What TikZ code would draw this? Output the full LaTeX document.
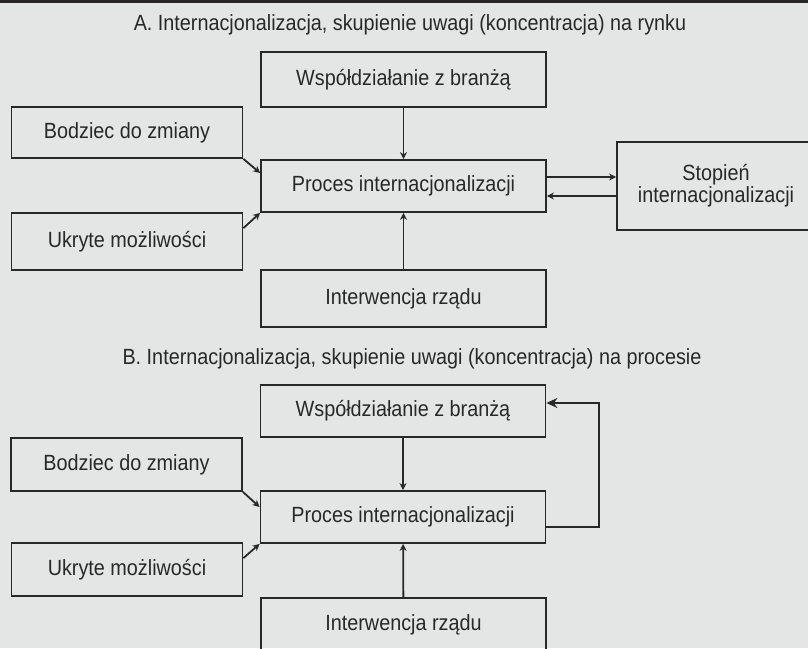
\documentclass[tikz,border=0pt]{standalone}
\usepackage{fontspec}
\setmainfont{Liberation Sans}[FakeStretch=0.9]
\usepackage{xcolor}
\usetikzlibrary{arrows.meta, positioning}
\definecolor{pagebg}{RGB}{228,230,230}
\definecolor{ink}{RGB}{40,40,40}

\begin{document}
\begin{tikzpicture}[
    x=1pt, y=-1pt,
    font=\fontsize{22}{22}\selectfont,
    blok/.style={draw=ink, line width=1.8pt, text=ink, inner sep=0pt, minimum width=285pt},
    boczny/.style={blok, minimum width=231pt},
    strz/.style={draw=ink, line width=1.8pt, -{Stealth[length=7pt, width=7pt]}}
]
    % Page
    \fill[pagebg] (0,0) rectangle (808,648);
    \useasboundingbox (0,0) rectangle (808,648);
    \fill[ink] (0,0) rectangle (808,3);

    % A: rynek
    \node[text=ink] (tytulA) at (410,25) {A. Internacjonalizacja, skupienie uwagi (koncentracja) na rynku};
    \node[blok, minimum height=55pt] (wspA) at (403.5,79.5) {Współdziałanie z branżą};
    \node[boczny, minimum height=51pt] (bodA) at (127,132.5) {Bodziec do zmiany};
    \node[blok, minimum height=52pt] (procA) at (403.5,186) {Proces internacjonalizacji};
    \node[boczny, minimum height=57pt] (ukrA) at (127,241.5) {Ukryte możliwości};
    \node[blok, minimum height=57pt] (intA) at (403.5,298.5) {Interwencja rządu};
    \node[blok, minimum width=198pt, minimum height=88pt, align=center] (stopA) at (716,186) {Stopień\\internacjonalizacji};

    \draw[strz] (wspA) -- (procA);
    \draw[strz] (intA) -- (procA);
    \draw[strz] (bodA.south east) -- ([yshift=13pt]procA.west);
    \draw[strz] ([yshift=-16pt]ukrA.north east) -- (procA.south west);
    \draw[strz] ([yshift=9pt]procA.east) -- ([yshift=9pt]procA.east -| stopA.west);
    \draw[strz] ([yshift=-10pt]procA.east -| stopA.west) -- ([yshift=-10pt]procA.east);

    % B: proces
    \node[text=ink] (tytulB) at (412,359) {B. Internacjonalizacja, skupienie uwagi (koncentracja) na procesie};
    \node[blok, minimum height=52pt] (wspB) at (403,411) {Współdziałanie z branżą};
    \node[boczny, minimum height=53pt] (bodB) at (126.5,464.5) {Bodziec do zmiany};
    \node[blok, minimum height=52pt] (procB) at (403,517) {Proces internacjonalizacji};
    \node[boczny, minimum height=53pt] (ukrB) at (127,569.5) {Ukryte możliwości};
    \node[blok, minimum height=54pt] (intB) at (403.5,625) {Interwencja rządu};
    \coordinate (zwrot) at (599,0);
    \coordinate (wejscie) at ([yshift=8pt]wspB.east);

    \draw[strz] (wspB) -- (procB);
    \draw[strz] (intB) -- (procB);
    \draw[strz] (bodB.south east) -- ([yshift=10pt]procB.west);
    \draw[strz] ([yshift=-16pt]ukrB.north east) -- (procB.south west);
    \draw[draw=ink, line width=1.8pt, -{Stealth[length=11pt, width=10pt]}]
        ([yshift=-10pt]procB.east) -| (zwrot |- wejscie) -- (wejscie);
\end{tikzpicture}
\end{document}
